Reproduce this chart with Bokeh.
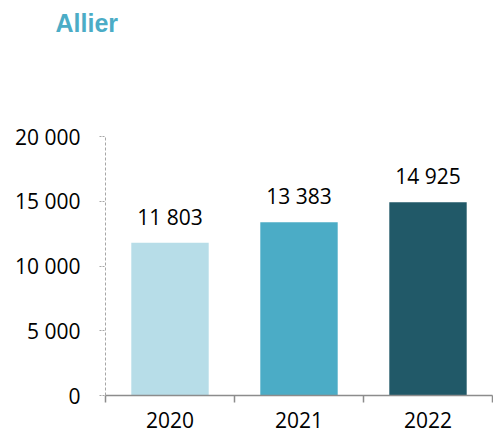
from bokeh.plotting import figure
from bokeh.models import ColumnDataSource, LabelSet, LinearAxis, FixedTicker, Range1d, FactorRange, Title
from bokeh.core.properties import value
from bokeh.embed import file_html
from bokeh.resources import INLINE

years = ["2020", "2021", "2022"]
values = [11803, 13383, 14925]
value_labels = ["11 803", "13 383", "14 925"]
colors = ["#b7dde8", "#4bacc6", "#215968"]
y_ticks = [0, 5000, 10000, 15000, 20000]
y_tick_labels = {0: "0", 5000: "5 000", 10000: "10 000", 15000: "15 000", 20000: "20 000"}
chart_title = "Allier"

FONT = "Open Sans"

source = ColumnDataSource(dict(x=years, top=values, color=colors, label=value_labels))

p = figure(width=493, height=432, x_range=FactorRange(factors=years), y_range=Range1d(0, 20000),
           output_backend="svg", toolbar_location=None, x_axis_type=None, y_axis_type=None,
           min_border_left=105, min_border_right=1, min_border_top=136, min_border_bottom=37)
p.title = None
p.outline_line_color = None
p.xgrid.visible = False
p.ygrid.visible = False
p.background_fill_color = "white"

# spacer between frame and title
spacer = Title(text="\u00a0", text_font_size="82px", standoff=0, text_color="white")
p.add_layout(spacer, "above")

title = Title(text=chart_title, align="left", vertical_align="top", offset=-50, standoff=10,
              text_font="Liberation Sans", text_font_style="bold", text_font_size="25px",
              text_color="#4bacc6")
p.add_layout(title, "above")

p.vbar(x="x", top="top", width=0.6, color="color", source=source, line_color=None)

# y axis
yaxis = LinearAxis(ticker=FixedTicker(ticks=y_ticks), major_label_overrides=y_tick_labels)
yaxis.axis_line_color = "#a6a6a6"
yaxis.axis_line_dash = "3 2"
yaxis.major_tick_line_color = "#a6a6a6"
yaxis.major_tick_line_dash = "2 1"
yaxis.major_tick_out = 6
yaxis.major_tick_in = 0
yaxis.minor_tick_line_color = None
yaxis.major_label_standoff = 19
yaxis.major_label_text_font = FONT
yaxis.major_label_text_font_size = "21px"
yaxis.major_label_text_color = "#000000"
p.add_layout(yaxis, "left")

# x axis: labels at category centres, ticks at category boundaries
xaxis = LinearAxis(ticker=FixedTicker(ticks=[0.5, 1.5, 2.5], minor_ticks=[0, 1, 2, 3]),
                   major_label_overrides={0.5: years[0], 1.5: years[1], 2.5: years[2]})
xaxis.axis_line_color = "#8c8c8c"
xaxis.axis_line_width = 1.5
xaxis.major_tick_line_color = None
xaxis.major_tick_out = 0
xaxis.major_tick_in = 0
xaxis.minor_tick_line_color = "#8c8c8c"
xaxis.minor_tick_line_width = 1.5
xaxis.minor_tick_out = 7
xaxis.minor_tick_in = 0
xaxis.major_label_standoff = 9
xaxis.major_label_text_font = FONT
xaxis.major_label_text_font_size = "21px"
xaxis.major_label_text_color = "#000000"
p.add_layout(xaxis, "below")

labels = LabelSet(x="x", y="top", text="label", source=source, y_offset=18,
                  text_align="center", text_baseline="alphabetic",
                  text_font=value(FONT), text_font_size=value("21px"), text_color="#000000")
p.add_layout(labels)

open("out.html", "w").write(file_html(p, INLINE))
